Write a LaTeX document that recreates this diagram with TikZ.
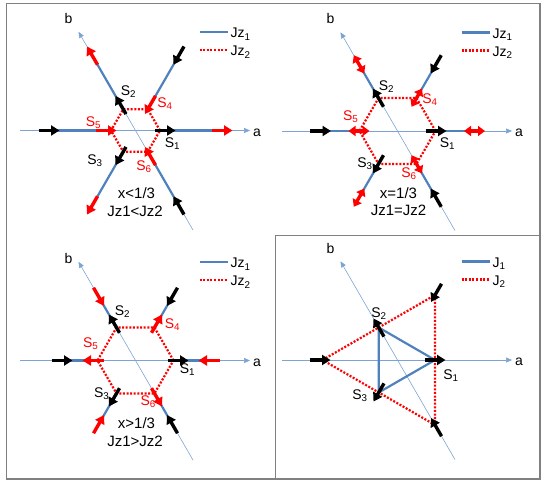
\documentclass[tikz,border=0pt]{standalone}
\usepackage{fontspec}
\setmainfont{Liberation Sans}
\usetikzlibrary{arrows.meta}
\definecolor{jblue}{RGB}{79,129,189}
\definecolor{axisblue}{RGB}{125,163,212}
\definecolor{framegray}{RGB}{128,128,128}
% one spin: an arrow of length 21 centred on a point
\newcommand{\spinarrow}[3]{\draw[#3] (#1) ++(#2:-10.5) -- ++(#2:21);}

\begin{document}
\begin{tikzpicture}[x=1pt, y=1pt,
  axisline/.style={axisblue, line width=0.6pt, -{Triangle[length=6pt,width=5pt]}},
  axislabel/.style={inner sep=0pt, font=\fontsize{14}{16}\selectfont},
  bondone/.style={jblue, line width=2.2pt},
  bondtwo/.style={red, line width=2.2pt, dash pattern=on 2pt off 1.6pt},
  spinblack/.style={black, line width=3.4pt, -{Triangle[length=8.5pt,width=10pt]}},
  spinred/.style={red, line width=3.4pt, -{Triangle[length=8.5pt,width=10pt]}},
  spinboth/.style={red, line width=3.4pt, {Triangle[length=7pt,width=10pt]}-{Triangle[length=7pt,width=10pt]}},
  sitelabel/.style={inner sep=0pt, font=\fontsize{14}{16}\selectfont},
  note/.style={inner sep=0pt, font=\fontsize{15}{18}\selectfont},
  legendtext/.style={anchor=base west, inner sep=0pt, font=\fontsize{14}{16}\selectfont},
  frame/.style={framegray, line width=1.5pt}
]
\useasboundingbox (0,0) rectangle (541,482);
\draw[frame] (6.5,3) rectangle (540,478.5);
\draw[frame] (275.7,3) rectangle (540,246.3);

% top left: x<1/3
\begin{scope}[shift={(135.5,351.5)}]
  \coordinate (a0) at (-115.5,0);
  \coordinate (a1) at (114.5,0);
  \coordinate (b0) at (300:115);
  \coordinate (b1) at (120:114);
  \draw[axisline] (a0) -- (a1);
  \draw[axisline] (b0) -- (b1);
  \node[axislabel] (alabel) at (121.5,-2) {a};
  \node[axislabel] (blabel) at (-67,112) {b};
  \foreach \k/\t in {1/0,4/60,2/120,5/180,3/240,6/300}{
    \coordinate (v\k) at (\t:24.5);
    \coordinate (s\k) at (\t:29.5);
    \coordinate (o\k) at (\t:86.5);
  }
  \foreach \k in {1,...,6} \draw[bondone] (v\k) -- (o\k);
  \draw[bondtwo] (v1) -- (v4) -- (v2) -- (v5) -- (v3) -- (v6) -- cycle;
  \spinarrow{s1}{0}{spinblack}
  \spinarrow{s2}{120}{spinblack}
  \spinarrow{s3}{240}{spinblack}
  \spinarrow{o5}{0}{spinblack}
  \spinarrow{o4}{240}{spinblack}
  \spinarrow{o6}{120}{spinblack}
  \spinarrow{s4}{240}{spinred}
  \spinarrow{s5}{0}{spinred}
  \spinarrow{s6}{120}{spinred}
  \spinarrow{o1}{0}{spinred}
  \spinarrow{o2}{120}{spinred}
  \spinarrow{o3}{240}{spinred}
  \node[sitelabel] (l1) at (37,-13) {S\textsubscript{1}};
  \node[sitelabel] (l2) at (-7,38.5) {S\textsubscript{2}};
  \node[sitelabel] (l3) at (-40.5,-30.5) {S\textsubscript{3}};
  \node[sitelabel, red] (l4) at (29.5,27) {S\textsubscript{4}};
  \node[sitelabel, red] (l5) at (-42,8) {S\textsubscript{5}};
  \node[sitelabel, red] (l6) at (8.5,-36) {S\textsubscript{6}};
  \node[note] (x) at (1,-63) {x<1/3};
  \node[note] (jj) at (-0.5,-81) {Jz1<Jz2};
  \coordinate (k1) at (64,98.5);
  \coordinate (k2) at (92,98.5);
  \coordinate (k3) at (64,80.5);
  \coordinate (k4) at (92,80.5);
  \draw[bondone] (k1) -- (k2);
  \draw[bondtwo] (k3) -- (k4);
  \node[legendtext] (t1) at (95,92.5) {Jz\textsubscript{1}};
  \node[legendtext] (t2) at (95,74.5) {Jz\textsubscript{2}};
\end{scope}

% top right: x=1/3
\begin{scope}[shift={(397.5,351)}]
  \coordinate (a0) at (-115.5,0);
  \coordinate (a1) at (114.5,0);
  \coordinate (b0) at (300:115);
  \coordinate (b1) at (120:114);
  \draw[axisline] (a0) -- (a1);
  \draw[axisline] (b0) -- (b1);
  \node[axislabel] (alabel) at (121.5,-2) {a};
  \node[axislabel] (blabel) at (-67,112) {b};
  \foreach \k/\t in {1/0,4/60,2/120,5/180,3/240,6/300}{
    \coordinate (v\k) at (\t:38);
    \coordinate (s\k) at (\t:38.5);
    \coordinate (o\k) at (\t:77);
  }
  \foreach \k in {1,...,6} \draw[bondone] (v\k) -- (o\k);
  \draw[bondtwo] (v1) -- (v4) -- (v2) -- (v5) -- (v3) -- (v6) -- cycle;
  \spinarrow{s1}{0}{spinblack}
  \spinarrow{s2}{120}{spinblack}
  \spinarrow{s3}{240}{spinblack}
  \spinarrow{o5}{0}{spinblack}
  \spinarrow{o4}{240}{spinblack}
  \spinarrow{o6}{120}{spinblack}
  \spinarrow{s4}{60}{spinboth}
  \spinarrow{s5}{180}{spinboth}
  \spinarrow{s6}{300}{spinboth}
  \spinarrow{o1}{0}{spinboth}
  \spinarrow{o2}{120}{spinboth}
  \spinarrow{o3}{240}{spinboth}
  \node[sitelabel] (l1) at (50,-12.3) {S\textsubscript{1}};
  \node[sitelabel] (l2) at (-11,44) {S\textsubscript{2}};
  \node[sitelabel] (l3) at (-32.5,-33) {S\textsubscript{3}};
  \node[sitelabel, red] (l4) at (32.5,31) {S\textsubscript{4}};
  \node[sitelabel, red] (l5) at (-46.7,14.3) {S\textsubscript{5}};
  \node[sitelabel, red] (l6) at (11.5,-42.3) {S\textsubscript{6}};
  \node[note] (x) at (1,-62) {x=1/3};
  \node[note] (jj) at (1,-79) {Jz1=Jz2};
  \coordinate (k1) at (64,98.5);
  \coordinate (k2) at (92,98.5);
  \coordinate (k3) at (64,80.5);
  \coordinate (k4) at (92,80.5);
  \draw[bondone] (k1) -- (k2);
  \draw[bondtwo] (k3) -- (k4);
  \node[legendtext] (t1) at (95,92.5) {Jz\textsubscript{1}};
  \node[legendtext] (t2) at (95,74.5) {Jz\textsubscript{2}};
\end{scope}

% bottom left: x>1/3
\begin{scope}[shift={(135.5,121.5)}]
  \coordinate (a0) at (-115.5,0);
  \coordinate (a1) at (114.5,0);
  \coordinate (b0) at (300:115);
  \coordinate (b1) at (120:114);
  \draw[axisline] (a0) -- (a1);
  \draw[axisline] (b0) -- (b1);
  \node[axislabel] (alabel) at (121.5,-2) {a};
  \node[axislabel] (blabel) at (-67,102) {b};
  \foreach \k/\t in {1/0,4/60,2/120,5/180,3/240,6/300}{
    \coordinate (v\k) at (\t:38);
    \coordinate (s\k) at (\t:42.5);
    \coordinate (o\k) at (\t:73.5);
  }
  \foreach \k in {1,...,6} \draw[bondone] (v\k) -- (o\k);
  \draw[bondtwo] (v1) -- (v4) -- (v2) -- (v5) -- (v3) -- (v6) -- cycle;
  \spinarrow{s1}{0}{spinblack}
  \spinarrow{s2}{120}{spinblack}
  \spinarrow{s3}{240}{spinblack}
  \spinarrow{o5}{0}{spinblack}
  \spinarrow{o4}{240}{spinblack}
  \spinarrow{o6}{120}{spinblack}
  \spinarrow{s4}{60}{spinred}
  \spinarrow{s5}{180}{spinred}
  \spinarrow{s6}{300}{spinred}
  \spinarrow{o1}{180}{spinred}
  \spinarrow{o2}{300}{spinred}
  \spinarrow{o3}{60}{spinred}
  \node[sitelabel] (l1) at (52,-9.5) {S\textsubscript{1}};
  \node[sitelabel] (l2) at (-13,48.8) {S\textsubscript{2}};
  \node[sitelabel] (l3) at (-33.8,-32.8) {S\textsubscript{3}};
  \node[sitelabel, red] (l4) at (37,35.5) {S\textsubscript{4}};
  \node[sitelabel, red] (l5) at (-44.7,17.2) {S\textsubscript{5}};
  \node[sitelabel, red] (l6) at (12.8,-41.2) {S\textsubscript{6}};
  \node[note] (x) at (1,-63) {x>1/3};
  \node[note] (jj) at (-0.5,-81) {Jz1>Jz2};
  \coordinate (k1) at (64,98.5);
  \coordinate (k2) at (92,98.5);
  \coordinate (k3) at (64,80.5);
  \coordinate (k4) at (92,80.5);
  \draw[bondone] (k1) -- (k2);
  \draw[bondtwo] (k3) -- (k4);
  \node[legendtext] (t1) at (95,92.5) {Jz\textsubscript{1}};
  \node[legendtext] (t2) at (95,74.5) {Jz\textsubscript{2}};
\end{scope}

% bottom right: J1, J2 triangles
\begin{scope}[shift={(397.5,122)}]
  \coordinate (a0) at (-115.5,0);
  \coordinate (a1) at (114.5,0);
  \coordinate (b0) at (300:115);
  \coordinate (b1) at (120:114);
  \draw[axisline] (a0) -- (a1);
  \draw[axisline] (b0) -- (b1);
  \node[axislabel] (alabel) at (121.5,-2) {a};
  \node[axislabel] (blabel) at (-67,112) {b};
  \foreach \k/\t in {1/0,2/120,3/240}
    \coordinate (v\k) at (\t:37.5);
  \foreach \k/\t in {4/60,5/180,6/300}{
    \coordinate (o\k) at (\t:75);
    \coordinate (p\k) at (\t:77.5);
  }
  \draw[bondtwo] (o5) -- (o4) -- (o6) -- cycle;
  \draw[bondone] (v1) -- (v2) -- (v3) -- cycle;
  \spinarrow{v1}{0}{spinblack}
  \spinarrow{v2}{120}{spinblack}
  \spinarrow{v3}{240}{spinblack}
  \spinarrow{p5}{0}{spinblack}
  \spinarrow{p4}{240}{spinblack}
  \spinarrow{p6}{120}{spinblack}
  \node[sitelabel] (l1) at (53.5,-16) {S\textsubscript{1}};
  \node[sitelabel] (l2) at (-18.5,46.7) {S\textsubscript{2}};
  \node[sitelabel] (l3) at (-37.5,-35.8) {S\textsubscript{3}};
  \coordinate (k1) at (64,98.5);
  \coordinate (k2) at (92,98.5);
  \coordinate (k3) at (64,80.5);
  \coordinate (k4) at (92,80.5);
  \draw[bondone] (k1) -- (k2);
  \draw[bondtwo] (k3) -- (k4);
  \node[legendtext] (t1) at (95,92.5) {J\textsubscript{1}};
  \node[legendtext] (t2) at (95,74.5) {J\textsubscript{2}};
\end{scope}
\end{tikzpicture}
\end{document}
